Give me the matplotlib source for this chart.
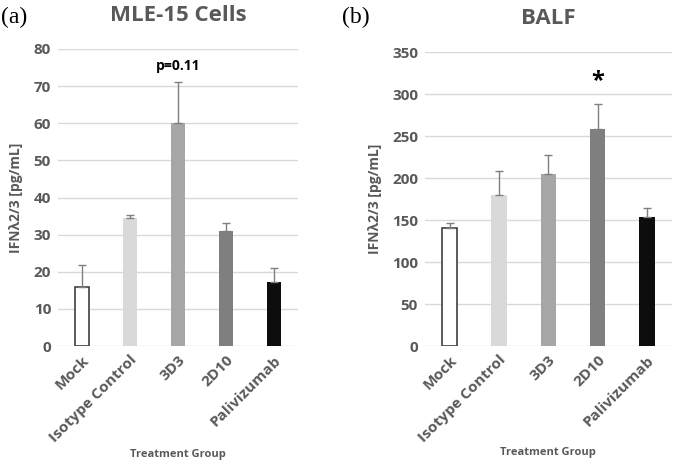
import matplotlib
matplotlib.use("Agg")
import matplotlib.pyplot as plt
import numpy as np

plt.rcParams['font.family'] = ['Open Sans', 'DejaVu Sans']

groups = ["Mock", "Isotype Control", "3D3", "2D10", "Palivizumab"]
colors = ["white", "#d9d9d9", "#a6a6a6", "#7f7f7f", "#0d0d0d"]

mle_means = [16.0, 34.6, 60.0, 31.0, 17.3]
mle_err = [5.8, 0.7, 11.2, 2.0, 3.7]

balf_means = [141, 180, 205, 258, 154]
balf_err = [5, 28, 23, 30, 10]

text_gray = "#595959"
grid_gray = "#d9d9d9"

fig = plt.figure(figsize=(6.76, 4.62), dpi=100)
ax1 = fig.add_axes([0.0858, 0.251, 0.355, 0.643])
ax2 = fig.add_axes([0.6287, 0.251, 0.365, 0.636])


def draw_panel(ax, means, errs, ymax, step, title):
    x = np.arange(len(groups))
    ax.bar(x, means, width=0.31, color=colors, edgecolor=["#404040", "none", "none", "none", "none"],
           linewidth=1.2, zorder=3)
    ax.errorbar(x, means, yerr=[np.zeros(len(errs)), errs], fmt="none", ecolor="#7f7f7f",
                elinewidth=1.0, capsize=3, capthick=1.0, zorder=4)
    ax.set_xlim(-0.5, len(groups) - 0.5)
    ax.set_ylim(0, ymax)
    ax.set_yticks(np.arange(0, ymax + 1, step))
    ax.yaxis.grid(True, color=grid_gray, linewidth=1.0, zorder=0)
    for s in ax.spines.values():
        s.set_visible(False)
    ax.tick_params(axis="both", length=0, colors=text_gray, labelsize=11, pad=5)
    ax.set_xticks(x)
    ax.set_xticklabels(groups, rotation=45, ha="right", rotation_mode="anchor",
                       fontweight="bold", color=text_gray)
    for lab in ax.get_yticklabels():
        lab.set_fontweight("bold")
    ax.set_ylabel("IFN\u03bb2/3 [pg/mL]", fontsize=10, fontweight="bold", color=text_gray)
    ax.set_xlabel("Treatment Group", fontsize=8, fontweight="bold", color=text_gray)
    ax.set_title(title, fontsize=16, fontweight="bold", color=text_gray, pad=20)
    ax.xaxis.set_label_coords(0.5, -0.345)


draw_panel(ax1, mle_means, mle_err, 80, 10, "MLE-15 Cells")
draw_panel(ax2, balf_means, balf_err, 350, 50, "BALF")
ax1.yaxis.set_label_coords(-0.145, 0.5)
ax2.yaxis.set_label_coords(-0.175, 0.5)

ax1.text(2, 75.5, "p=0.11", ha="center", va="center", fontsize=10, fontweight="bold", color="black")
ax2.text(3, 315, "*", ha="center", va="center", fontsize=17, fontweight="bold", color="black")

fig.text(0.002, 0.962, "(a)", family="Liberation Serif", fontsize=17, va="center", ha="left")
fig.text(0.506, 0.962, "(b)", family="Liberation Serif", fontsize=17, va="center", ha="left")

fig.savefig("out.png", dpi=100)
